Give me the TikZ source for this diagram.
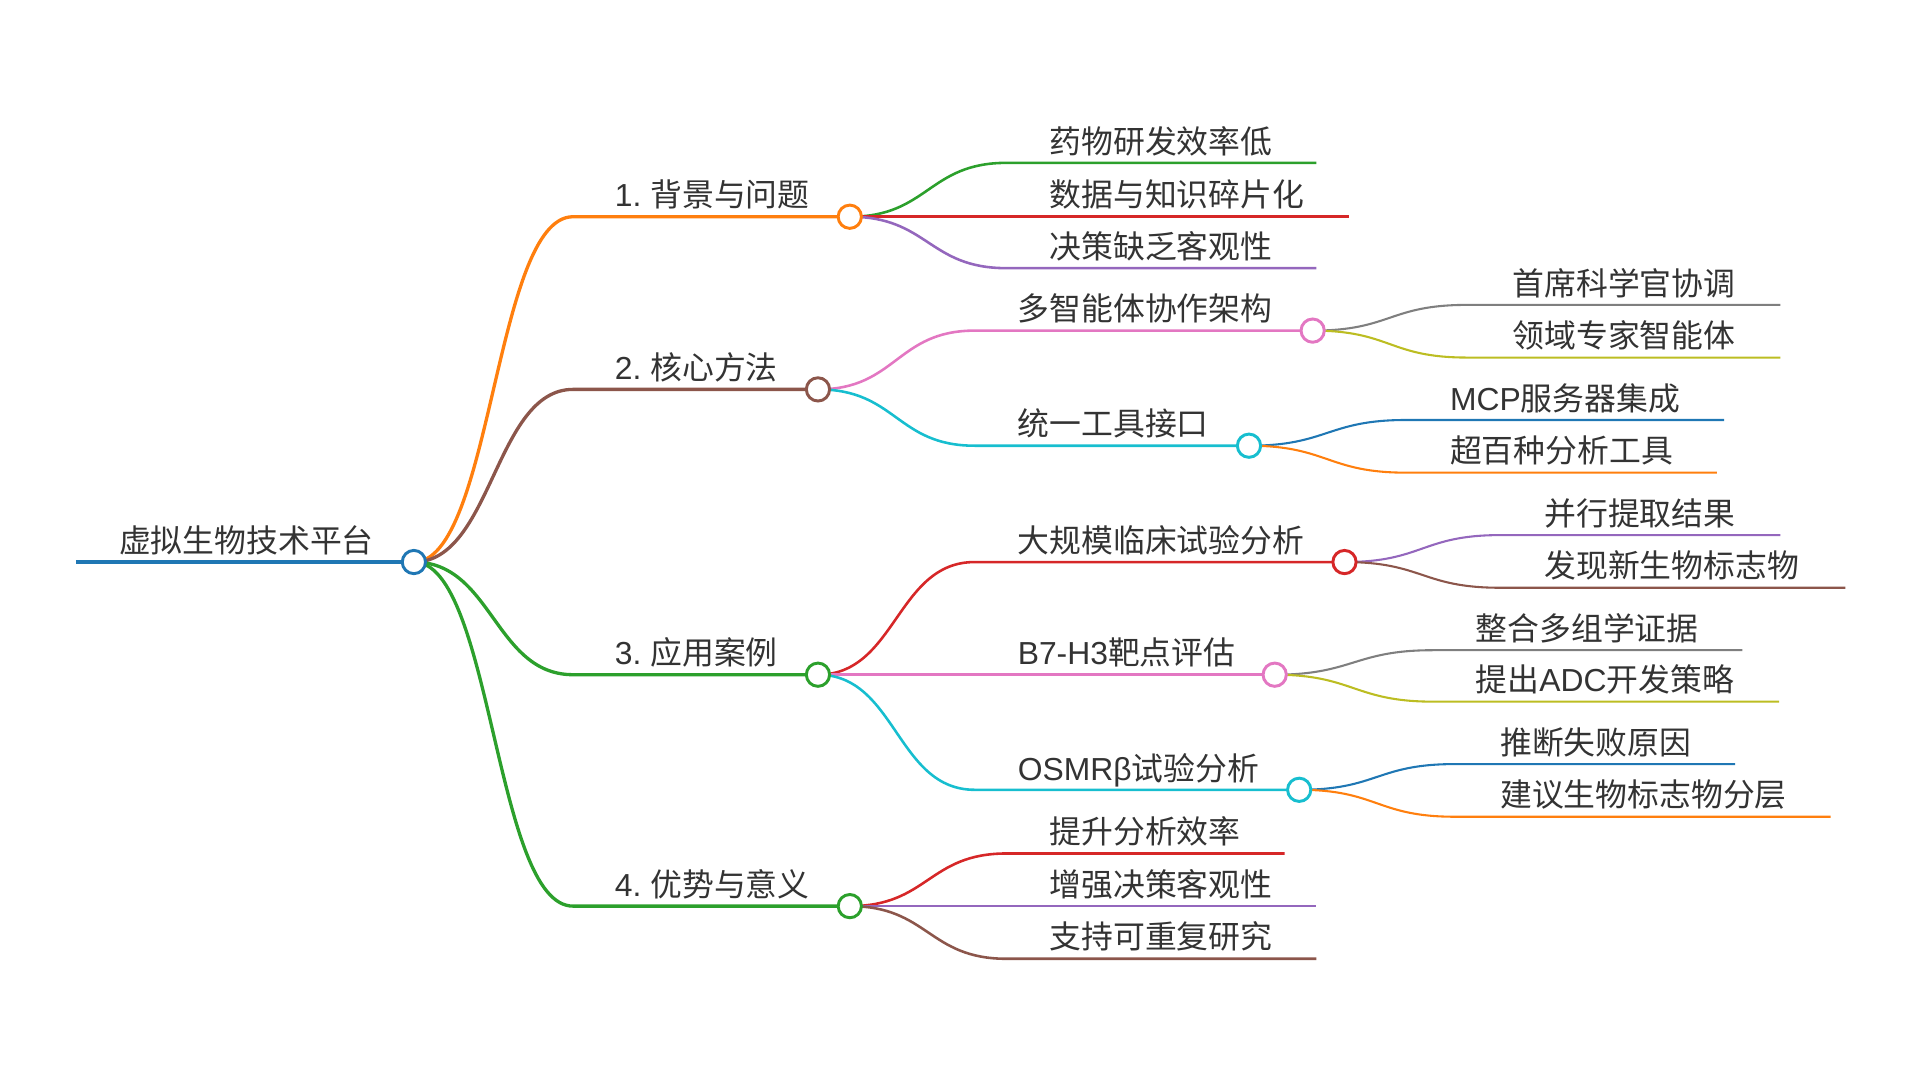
\documentclass[tikz,border=0pt]{standalone}
\usepackage{fontspec}
\setmainfont{Noto Sans CJK SC}
\newfontfamily\lat{Liberation Sans}
\definecolor{mmblue}{HTML}{1F77B4}
\definecolor{mmorange}{HTML}{FF7F0E}
\definecolor{mmgreen}{HTML}{2CA02C}
\definecolor{mmred}{HTML}{D62728}
\definecolor{mmpurple}{HTML}{9467BD}
\definecolor{mmbrown}{HTML}{8C564B}
\definecolor{mmpink}{HTML}{E377C2}
\definecolor{mmgray}{HTML}{7F7F7F}
\definecolor{mmolive}{HTML}{BCBD22}
\definecolor{mmcyan}{HTML}{17BECF}
\begin{document}
\begin{tikzpicture}[x=1pt,y=-1pt,
  dot/.style={circle,draw=#1,fill=white,line width=2.4pt,minimum size=19pt,inner sep=0pt},
  lab/.style={anchor=base west,inner sep=0pt,text=black!80,font=\fontsize{26}{26}\selectfont},
  lroot/.style={draw=#1,line width=3.8pt},
  lone/.style={draw=#1,line width=2.7pt},
  ltwo/.style={draw=#1,line width=2.1pt},
  lthree/.style={draw=#1,line width=1.7pt}]
\useasboundingbox (0,0) rectangle (1568,882);

% root
\coordinate (r0) at (62,459);
\coordinate (r) at (338,459);
\node[lab] (rt) at (97,451) {虚拟生物技术平台};

% first level
\coordinate (a0) at (468,177); \coordinate (a) at (694,177);
\coordinate (b0) at (468,318); \coordinate (b) at (668,318);
\coordinate (c0) at (468,551); \coordinate (c) at (668,551);
\coordinate (d0) at (468,740); \coordinate (d) at (694,740);
\node[lab] (at) at (502,169) {\lat 1. }; \node[lab] (at2) at (531,169) {背景与问题};
\node[lab] (bt) at (502,310) {\lat 2. }; \node[lab] (bt2) at (531,310) {核心方法};
\node[lab] (ct) at (502,543) {\lat 3. }; \node[lab] (ct2) at (531,543) {应用案例};
\node[lab] (dt) at (502,732) {\lat 4. }; \node[lab] (dt2) at (531,732) {优势与意义};

% second level
\coordinate (a1) at (822,133); \coordinate (a1e) at (1075,133);
\coordinate (a2) at (822,177); \coordinate (a2e) at (1102,177);
\coordinate (a3) at (822,219); \coordinate (a3e) at (1075,219);
\node[lab] (a1t) at (857,125) {药物研发效率低};
\node[lab] (a2t) at (857,169) {数据与知识碎片化};
\node[lab] (a3t) at (857,211) {决策缺乏客观性};

\coordinate (b10) at (796,270); \coordinate (b1) at (1072,270);
\coordinate (b20) at (796,364); \coordinate (b2) at (1020,364);
\node[lab] (b1t) at (831,262) {多智能体协作架构};
\node[lab] (b2t) at (831,356) {统一工具接口};

\coordinate (c10) at (796,459); \coordinate (c1) at (1098,459);
\coordinate (c20) at (796,551); \coordinate (c2) at (1041,551);
\coordinate (c30) at (796,645); \coordinate (c3) at (1061,645);
\node[lab] (c1t) at (831,451) {大规模临床试验分析};
\node[lab] (c2t) at (831,543) {\lat B7-H3\normalfont 靶点评估};
\node[lab] (c3t) at (831,637) {\lat OSMRβ\normalfont 试验分析};

\coordinate (d1) at (822,697); \coordinate (d1e) at (1049,697);
\coordinate (d2) at (822,740); \coordinate (d2e) at (1075,740);
\coordinate (d3) at (822,783); \coordinate (d3e) at (1075,783);
\node[lab] (d1t) at (857,689) {提升分析效率};
\node[lab] (d2t) at (857,732) {增强决策客观性};
\node[lab] (d3t) at (857,775) {支持可重复研究};

% third level
\coordinate (b11) at (1198,249); \coordinate (b11e) at (1454,249);
\coordinate (b12) at (1198,292); \coordinate (b12e) at (1454,292);
\coordinate (b21) at (1148,343); \coordinate (b21e) at (1408,343);
\coordinate (b22) at (1148,386); \coordinate (b22e) at (1402,386);
\node[lab] (b11t) at (1235,241) {首席科学官协调};
\node[lab] (b12t) at (1235,284) {领域专家智能体};
\node[lab] (b21t) at (1184,335) {\lat MCP\normalfont 服务器集成};
\node[lab] (b22t) at (1184,378) {超百种分析工具};

\coordinate (c11) at (1225,437); \coordinate (c11e) at (1454,437);
\coordinate (c12) at (1225,480); \coordinate (c12e) at (1507,480);
\coordinate (c21) at (1170,531); \coordinate (c21e) at (1423,531);
\coordinate (c22) at (1170,573); \coordinate (c22e) at (1453,573);
\coordinate (c31) at (1188,624); \coordinate (c31e) at (1417,624);
\coordinate (c32) at (1188,667); \coordinate (c32e) at (1495,667);
\node[lab] (c11t) at (1261,429) {并行提取结果};
\node[lab] (c12t) at (1261,472) {发现新生物标志物};
\node[lab] (c21t) at (1205,523) {整合多组学证据};
\node[lab] (c22t) at (1205,565) {提出\lat ADC\normalfont 开发策略};
\node[lab] (c31t) at (1225,616) {推断失败原因};
\node[lab] (c32t) at (1225,659) {建议生物标志物分层};

% links
\draw[lroot=mmblue] (r0) -- (r);
\draw[lone=mmorange] (r) .. controls +(64,0) and +(-64,0) .. (a0) -- (a);
\draw[lone=mmbrown] (r) .. controls +(64,0) and +(-64,0) .. (b0) -- (b);
\draw[lone=mmgreen] (r) .. controls +(64,0) and +(-64,0) .. (c0) -- (c);
\draw[lone=mmgreen] (r) .. controls +(64,0) and +(-64,0) .. (d0) -- (d);

\draw[ltwo=mmgreen] (a) .. controls +(64,0) and +(-64,0) .. (a1) -- (a1e);
\draw[ltwo=mmred] (a) .. controls +(64,0) and +(-64,0) .. (a2) -- (a2e);
\draw[ltwo=mmpurple] (a) .. controls +(64,0) and +(-64,0) .. (a3) -- (a3e);
\draw[ltwo=mmpink] (b) .. controls +(64,0) and +(-64,0) .. (b10) -- (b1);
\draw[ltwo=mmcyan] (b) .. controls +(64,0) and +(-64,0) .. (b20) -- (b2);
\draw[ltwo=mmred] (c) .. controls +(64,0) and +(-64,0) .. (c10) -- (c1);
\draw[ltwo=mmpink] (c) .. controls +(64,0) and +(-64,0) .. (c20) -- (c2);
\draw[ltwo=mmcyan] (c) .. controls +(64,0) and +(-64,0) .. (c30) -- (c3);
\draw[ltwo=mmred] (d) .. controls +(64,0) and +(-64,0) .. (d1) -- (d1e);
\draw[ltwo=mmpurple] (d) .. controls +(64,0) and +(-64,0) .. (d2) -- (d2e);
\draw[ltwo=mmbrown] (d) .. controls +(64,0) and +(-64,0) .. (d3) -- (d3e);

\draw[lthree=mmgray] (b1) .. controls +(64,0) and +(-64,0) .. (b11) -- (b11e);
\draw[lthree=mmolive] (b1) .. controls +(64,0) and +(-64,0) .. (b12) -- (b12e);
\draw[lthree=mmblue] (b2) .. controls +(64,0) and +(-64,0) .. (b21) -- (b21e);
\draw[lthree=mmorange] (b2) .. controls +(64,0) and +(-64,0) .. (b22) -- (b22e);
\draw[lthree=mmpurple] (c1) .. controls +(64,0) and +(-64,0) .. (c11) -- (c11e);
\draw[lthree=mmbrown] (c1) .. controls +(64,0) and +(-64,0) .. (c12) -- (c12e);
\draw[lthree=mmgray] (c2) .. controls +(64,0) and +(-64,0) .. (c21) -- (c21e);
\draw[lthree=mmolive] (c2) .. controls +(64,0) and +(-64,0) .. (c22) -- (c22e);
\draw[lthree=mmblue] (c3) .. controls +(64,0) and +(-64,0) .. (c31) -- (c31e);
\draw[lthree=mmorange] (c3) .. controls +(64,0) and +(-64,0) .. (c32) -- (c32e);

% circles on top
\node[dot=mmblue] (rc) at (r) {};
\node[dot=mmorange] (ac) at (a) {};
\node[dot=mmbrown] (bc) at (b) {};
\node[dot=mmgreen] (cc) at (c) {};
\node[dot=mmgreen] (dc) at (d) {};
\node[dot=mmpink] (b1c) at (b1) {};
\node[dot=mmcyan] (b2c) at (b2) {};
\node[dot=mmred] (c1c) at (c1) {};
\node[dot=mmpink] (c2c) at (c2) {};
\node[dot=mmcyan] (c3c) at (c3) {};
\end{tikzpicture}
\end{document}
